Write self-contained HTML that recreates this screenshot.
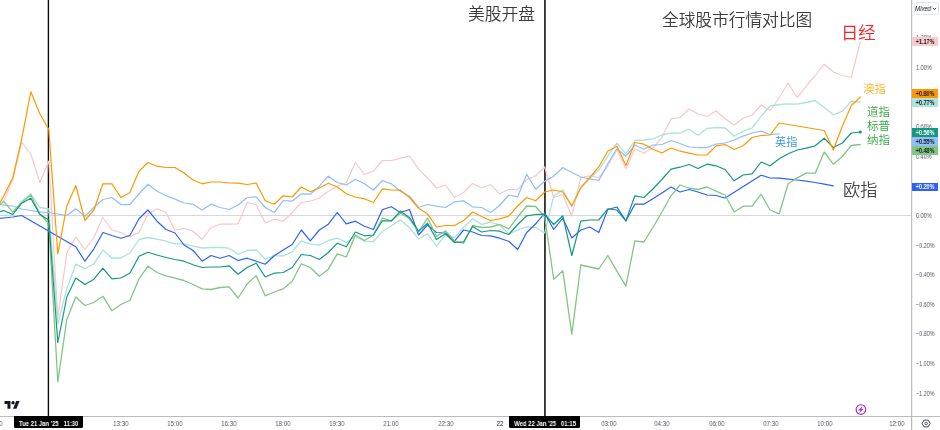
<!DOCTYPE html>
<html lang="zh">
<head>
<meta charset="utf-8">
<title>全球股市行情对比图</title>
<style>
html,body{margin:0;padding:0;background:#fff;}
body{width:940px;height:430px;overflow:hidden;position:relative;font-family:"Liberation Sans","Noto Sans CJK SC",sans-serif;}
#chart{position:absolute;left:0;top:0;width:940px;height:430px;}
.t{position:absolute;white-space:nowrap;line-height:1;will-change:transform;}
.cn{font-family:"Liberation Sans","Noto Sans CJK SC",sans-serif;font-weight:350;}
.ax{will-change:transform;position:absolute;font-size:6.3px;color:#50535e;line-height:8px;height:8px;white-space:nowrap;transform-origin:left center;}
.tm{top:419.9px;width:40px;text-align:center;transform:scaleX(0.958);transform-origin:center center;}
.pr{left:916.1px;transform:scaleX(0.873);}
.ng{transform:scaleX(0.854);}
.lab{position:absolute;left:912px;width:26px;height:9px;font-size:6.5px;padding-left:1.2px;box-sizing:border-box;line-height:9px;text-align:center;color:#16181d;white-space:nowrap;}
.lab span{will-change:transform;display:inline-block;transform:scaleX(0.84);transform-origin:center center;font-weight:bold;}
.tbox{position:absolute;top:416.3px;height:12px;background:#000;color:#fff;font-size:6.3px;font-weight:bold;line-height:12px;padding-top:2px;box-sizing:border-box;text-align:center;border-radius:0 0 1.5px 1.5px;white-space:pre;}
.tbox span{will-change:transform;display:inline-block;transform-origin:center center;}
</style>
</head>
<body>
<svg id="chart" width="940" height="430" viewBox="0 0 940 430">
<rect x="0" y="0" width="940" height="430" fill="#ffffff"/>
<!-- zero line -->
<line x1="0" y1="215.5" x2="911" y2="215.5" stroke="#d6d7da" stroke-width="1"/>
<!-- vertical markers -->
<line x1="48.4" y1="0" x2="48.4" y2="416" stroke="#0a0a0a" stroke-width="1.35"/>
<line x1="544.95" y1="0" x2="544.95" y2="416" stroke="#0c0c0c" stroke-width="1.55"/>
<!-- series -->
<polyline points="3.7,201.0 12.7,180.0 21.7,142.0 30.8,154.0 39.8,182.5 48.8,161.0 57.8,317.5 66.8,253.0 75.8,236.8 84.9,249.5 93.9,237.5 102.9,217.5 111.9,230.0 120.9,232.5 129.9,237.0 139.0,232.5 148.0,213.8 157.0,208.8 166.0,212.5 175.0,230.5 184.0,228.2 193.1,231.2 202.1,239.5 211.1,227.5 220.1,224.2 229.1,224.2 238.1,223.8 247.2,202.5 256.2,205.0 265.2,223.0 274.2,219.2 283.2,221.2 292.2,212.5 301.3,202.5 310.3,201.2 319.3,198.0 328.3,191.2 337.3,186.2 346.3,182.5 355.4,162.5 364.4,174.5 373.4,171.2 382.4,160.5 391.4,160.5 400.4,158.2 409.5,156.2 418.5,168.8 427.5,178.0 436.5,188.0 445.5,185.0 454.5,197.5 463.6,192.5 472.6,183.5 481.6,188.0 490.6,184.5 499.6,193.8 508.7,189.5 517.7,189.5 526.7,179.5 535.7,175.8 544.7,167.0 553.7,197.5 562.8,194.5 571.8,216.2 580.8,177.5 589.8,175.8 598.8,177.5 607.8,166.2 616.9,149.5 625.9,168.8 634.9,148.8 643.9,153.0 652.9,148.0 661.9,137.5 671.0,118.8 680.0,117.5 689.0,109.0 698.0,113.8 707.0,116.5 716.0,110.8 725.1,118.8 734.1,125.0 743.1,118.2 752.1,115.0 761.1,105.0 770.1,110.5 779.2,97.5 788.2,83.2 797.2,97.5 806.2,86.2 815.2,75.5 824.2,64.2 833.3,72.0 842.3,75.5 851.3,77.5 860.3,41.8" fill="none" stroke="#fbc6ca" stroke-width="1.2" stroke-linejoin="round" stroke-linecap="round"/>
<polyline points="-5.3,215.4 3.7,215.4 12.7,215.2 21.7,201.4 30.8,193.8 39.8,207.5 48.8,208.8 57.8,323.8 66.8,288.8 75.8,264.2 84.9,268.8 93.9,263.8 102.9,250.0 111.9,258.0 120.9,258.0 129.9,253.0 139.0,239.5 148.0,237.5 157.0,239.2 166.0,241.2 175.0,243.8 184.0,243.8 193.1,246.2 202.1,248.0 211.1,247.5 220.1,247.5 229.1,248.2 238.1,254.2 247.2,250.5 256.2,250.0 265.2,259.2 274.2,255.8 283.2,255.8 292.2,252.0 301.3,240.8 310.3,244.2 319.3,245.0 328.3,240.5 337.3,238.2 346.3,242.5 355.4,236.2 364.4,241.2 373.4,241.8 382.4,231.2 391.4,225.8 400.4,220.0 409.5,227.5 418.5,238.8 427.5,233.8 436.5,246.2 445.5,235.0 454.5,237.5 463.6,227.5 472.6,218.8 481.6,224.5 490.6,222.0 499.6,225.0 508.7,233.8 517.7,230.0 526.7,226.8 535.7,227.5 544.7,233.0 553.7,196.2 562.8,189.8 571.8,206.0 580.8,188.0 589.8,178.2 598.8,170.0 607.8,156.2 616.9,143.2 625.9,153.8 634.9,140.5 643.9,140.0 652.9,138.8 661.9,135.0 671.0,133.2 680.0,133.0 689.0,129.2 698.0,135.2 707.0,128.5 716.0,127.5 725.1,128.0 734.1,136.2 743.1,131.2 752.1,128.0 761.1,116.2 770.1,106.0 779.2,104.5 788.2,103.8 797.2,104.2 806.2,102.5 815.2,100.5 824.2,107.5 833.3,114.8 842.3,111.2 851.3,101.2 860.3,102.0" fill="none" stroke="#a8e4da" stroke-width="1.3" stroke-linejoin="round" stroke-linecap="round"/>
<polyline points="-5.3,204.0 3.7,205.0 12.7,206.0 21.7,209.0 30.8,210.5 39.8,211.8 48.8,212.5 57.8,214.0 66.8,215.5 75.8,208.8 84.9,216.2 93.9,207.5 102.9,199.5 111.9,197.5 120.9,204.5 129.9,204.5 139.0,193.8 148.0,184.2 157.0,191.2 166.0,195.5 175.0,199.2 184.0,203.0 193.1,204.2 202.1,210.0 211.1,204.2 220.1,207.5 229.1,209.5 238.1,205.0 247.2,197.5 256.2,196.8 265.2,207.5 274.2,212.5 283.2,200.5 292.2,201.2 301.3,193.8 310.3,194.2 319.3,186.2 328.3,176.2 337.3,182.5 346.3,185.0 355.4,179.2 364.4,183.8 373.4,190.0 382.4,180.5 391.4,183.8 400.4,191.2 409.5,196.2 418.5,207.5 427.5,204.5 436.5,206.2 445.5,207.5 454.5,201.8 463.6,200.8 472.6,206.8 481.6,207.5 490.6,212.5 499.6,205.5 508.7,195.0 517.7,196.8 526.7,174.2 535.7,189.2 544.7,181.2 553.7,176.2 562.8,167.5 571.8,172.5 580.8,177.0 589.8,178.8 598.8,180.5 607.8,163.8 616.9,148.8 625.9,156.2 634.9,145.0 643.9,149.2 652.9,145.0 661.9,144.5 671.0,140.5 680.0,143.5 689.0,147.0 698.0,147.5 707.0,147.5 716.0,144.2 725.1,143.0 734.1,140.0 743.1,136.2 752.1,133.0 761.1,131.2 770.1,134.5 779.2,133.8" fill="none" stroke="#90bff9" stroke-width="1.25" stroke-linejoin="round" stroke-linecap="round"/>
<polyline points="-5.3,219.0 3.7,218.0 12.7,217.0 21.7,215.5 75.8,246.8 84.9,261.2 93.9,248.8 102.9,232.5 111.9,235.5 120.9,238.2 129.9,235.5 139.0,218.8 148.0,210.0 157.0,221.2 166.0,229.5 175.0,233.0 184.0,245.0 193.1,250.5 202.1,261.2 211.1,255.5 220.1,258.2 229.1,255.5 238.1,260.5 247.2,258.2 256.2,261.2 265.2,264.2 274.2,255.8 283.2,250.0 292.2,244.5 301.3,230.0 310.3,240.8 319.3,230.0 328.3,224.2 337.3,212.5 346.3,223.8 355.4,221.2 364.4,226.2 373.4,229.5 382.4,209.5 391.4,206.8 400.4,212.5 409.5,209.5 418.5,235.0 427.5,225.0 436.5,232.5 445.5,233.0 454.5,241.2 463.6,230.0 472.6,232.0 481.6,235.5 490.6,235.8 499.6,238.2 508.7,241.2 517.7,249.5 526.7,232.5 535.7,223.8 544.7,213.2 553.7,229.5 562.8,218.0 571.8,238.0 580.8,230.0 589.8,227.0 598.8,232.5 607.8,209.5 616.9,207.0 625.9,220.8 634.9,204.2 643.9,204.2 652.9,198.8 661.9,193.0 671.0,187.0 680.0,192.0 689.0,189.5 698.0,192.0 707.0,195.0 716.0,195.5 725.1,198.0 761.1,175.2 770.1,178.0 779.2,178.2 788.2,179.2 797.2,180.0 806.2,181.2 815.2,182.5 824.2,184.2 833.3,185.8" fill="none" stroke="#2962ff" stroke-width="1.2" stroke-linejoin="round" stroke-linecap="round"/>
<polyline points="-5.3,209.0 3.7,201.4 12.7,212.0 21.7,202.5 30.8,195.0 39.8,213.8 48.8,223.8 57.8,381.8 66.8,319.5 75.8,297.0 84.9,305.5 93.9,302.5 102.9,296.2 111.9,310.8 120.9,304.5 129.9,300.5 139.0,278.8 148.0,266.2 157.0,272.5 166.0,275.8 175.0,278.2 184.0,280.5 193.1,284.5 202.1,288.8 211.1,289.5 220.1,287.5 229.1,286.8 238.1,298.0 247.2,283.8 256.2,275.8 265.2,295.8 274.2,292.0 283.2,288.8 292.2,281.2 301.3,263.8 310.3,267.5 319.3,276.2 328.3,269.2 337.3,253.8 346.3,257.0 355.4,235.0 364.4,240.5 373.4,235.0 382.4,218.2 391.4,220.8 400.4,213.0 409.5,218.8 418.5,232.0 427.5,218.0 436.5,236.2 445.5,230.8 454.5,241.2 463.6,243.2 472.6,225.5 481.6,227.5 490.6,227.0 499.6,224.5 508.7,228.8 517.7,217.0 526.7,206.0 535.7,206.5 544.7,217.0 553.7,279.2 562.8,270.8 571.8,334.2 580.8,265.0 589.8,267.0 598.8,269.0 607.8,255.5 616.9,271.2 625.9,286.2 634.9,240.8 643.9,242.0 652.9,227.5 661.9,212.0 671.0,195.8 680.0,185.0 689.0,188.0 698.0,189.5 707.0,187.0 716.0,191.2 725.1,195.0 734.1,212.0 743.1,206.2 752.1,206.2 761.1,194.2 770.1,210.0 779.2,213.8 788.2,183.8 797.2,177.8 806.2,173.2 815.2,173.2 824.2,152.0 833.3,164.2 842.3,156.5 851.3,145.5 860.3,144.5" fill="none" stroke="#81c784" stroke-width="1.3" stroke-linejoin="round" stroke-linecap="round"/>
<polyline points="-5.3,213.0 3.7,210.5 12.7,214.5 21.7,203.2 30.8,198.2 39.8,214.5 48.8,220.0 57.8,342.5 66.8,297.0 75.8,278.0 84.9,284.5 93.9,279.2 102.9,268.2 111.9,278.8 120.9,278.0 129.9,273.2 139.0,256.2 148.0,252.2 157.0,255.0 166.0,257.5 175.0,259.5 184.0,261.2 193.1,264.8 202.1,267.5 211.1,267.0 220.1,267.0 229.1,265.8 238.1,274.2 247.2,267.5 256.2,263.2 265.2,277.0 274.2,273.2 283.2,272.5 292.2,267.5 301.3,254.5 310.3,255.5 319.3,259.5 328.3,252.5 337.3,243.2 346.3,246.8 355.4,232.0 364.4,235.8 373.4,235.0 382.4,220.8 391.4,220.8 400.4,211.2 409.5,217.5 418.5,231.2 427.5,223.2 436.5,239.5 445.5,233.8 454.5,242.5 463.6,241.8 472.6,226.5 481.6,232.0 490.6,230.5 499.6,231.2 508.7,234.5 517.7,224.5 526.7,215.8 535.7,214.5 544.7,214.2 553.7,224.5 562.8,215.8 571.8,255.5 580.8,221.2 589.8,220.0 598.8,220.0 607.8,208.8 616.9,210.0 625.9,220.8 634.9,195.8 643.9,197.5 652.9,189.0 661.9,179.5 671.0,169.2 680.0,167.2 689.0,164.5 698.0,168.5 707.0,164.2 716.0,165.8 725.1,169.5 734.1,180.8 743.1,175.0 752.1,173.8 761.1,162.0 770.1,165.8 779.2,158.8 788.2,153.8 797.2,150.0 806.2,148.2 815.2,145.8 824.2,138.2 833.3,147.5 842.3,143.0 851.3,133.0 860.3,132.0" fill="none" stroke="#14997f" stroke-width="1.2" stroke-linejoin="round" stroke-linecap="round"/>
<polyline points="-5.3,212.0 3.7,196.0 12.7,178.0 21.7,138.8 30.8,91.8 39.8,113.8 48.8,129.5 57.8,254.0 66.8,206.2 75.8,185.5 84.9,220.5 93.9,210.0 102.9,183.8 111.9,183.8 120.9,197.5 129.9,192.5 139.0,171.2 148.0,162.5 157.0,166.2 166.0,167.5 175.0,167.5 184.0,173.0 193.1,180.0 202.1,183.8 211.1,182.0 220.1,182.0 229.1,183.0 238.1,183.2 247.2,184.5 256.2,183.0 265.2,200.8 274.2,204.2 283.2,195.8 292.2,197.0 301.3,187.0 310.3,191.8 319.3,188.0 328.3,183.2 337.3,187.0 346.3,193.8 355.4,197.0 364.4,198.8 373.4,202.5 382.4,188.8 391.4,190.0 400.4,190.2 409.5,197.5 418.5,208.2 427.5,213.8 436.5,227.0 445.5,225.5 454.5,225.5 463.6,220.5 472.6,212.0 481.6,216.5 490.6,220.5 499.6,218.8 508.7,216.2 517.7,206.0 526.7,197.5 535.7,200.8 544.7,192.0 553.7,190.0 562.8,192.0 571.8,205.8 580.8,187.5 589.8,177.5 598.8,166.8 607.8,151.2 616.9,146.2 625.9,165.5 634.9,142.5 643.9,144.2 652.9,149.2 661.9,153.0 671.0,148.0 680.0,151.2 689.0,153.2 698.0,155.0 707.0,155.0 716.0,145.8 725.1,144.5 734.1,149.5 743.1,145.8 752.1,137.5 761.1,135.5 770.1,135.0 779.2,123.0 824.2,130.5 833.3,150.0 842.3,126.2 851.3,105.5 860.3,97.0" fill="none" stroke="#ff9800" stroke-width="1.2" stroke-linejoin="round" stroke-linecap="round"/>
<circle cx="860.3" cy="132" r="1.6" fill="#14997f"/>
<!-- axes -->
<line x1="0" y1="416.5" x2="940" y2="416.5" stroke="#b9bbc2" stroke-width="1"/>
<line x1="911.7" y1="0" x2="911.7" y2="430" stroke="#abaeb8" stroke-width="1"/>
<!-- TV logo -->
<g transform="translate(4.5,399.3) scale(0.425)" fill="#131722">
<path d="M14 22H7V11H0V4h14v18z"/>
<circle cx="20" cy="8" r="4"/>
<path d="M28 22h-8l7.5-18h8L28 22z"/>
</g>
<!-- lightning -->
<circle cx="860.9" cy="409.5" r="4.8" fill="#fff" stroke="#a42cc4" stroke-width="1.15"/>
<path d="M862.3 406.6l-3.9 3.6h2.3l-1.3 2.6 4-3.8h-2.3z" fill="#a42cc4" stroke="#a42cc4" stroke-width="0.3" stroke-linejoin="round"/>
<!-- settings hex -->
<path d="M922.1 423.5l2-3.4h4.1l2 3.4-2 3.4h-4.1z" fill="none" stroke="#3a3e4a" stroke-width="0.95" stroke-linejoin="round"/>
<circle cx="926.15" cy="423.5" r="1.3" fill="none" stroke="#3a3e4a" stroke-width="0.85"/>
</svg>

<!-- annotations -->
<div class="t cn" style="left:468.2px;top:7.1px;font-size:16.8px;color:#3c3c3c;">美股开盘</div>
<div class="t cn" style="left:661.5px;top:12.8px;font-size:16.7px;color:#3c3c3c;">全球股市行情对比图</div>
<div class="t cn" style="left:841.4px;top:24.9px;font-size:17.3px;color:#ff1f1f;">日经</div>
<div class="t cn" style="left:863px;top:83.8px;font-size:11.5px;color:#fdb32a;">澳指</div>
<div class="t cn" style="left:867.2px;top:106.9px;font-size:11.5px;color:#35aa3f;">道指</div>
<div class="t cn" style="left:867.2px;top:121.1px;font-size:11.5px;color:#35aa3f;">标普</div>
<div class="t cn" style="left:867.2px;top:134.9px;font-size:11.5px;color:#35aa3f;">纳指</div>
<div class="t cn" style="left:775.3px;top:137.1px;font-size:11.2px;color:#3496f4;">英指</div>
<div class="t cn" style="left:842.8px;top:181.9px;font-size:17.2px;color:#474747;">欧指</div>

<!-- price axis -->
<div class="t" style="left:913.5px;top:2px;width:25px;height:13px;border:1px solid #e0e3eb;border-radius:3px;box-sizing:border-box;"></div>
<div class="ax" style="left:915.3px;top:5.2px;font-style:italic;color:#131722;transform:scaleX(0.958);">Mixed</div>
<svg style="position:absolute;left:932px;top:7px" width="5" height="4" viewBox="0 0 5 4"><path d="M0.8 1l1.7 1.6L4.2 1" fill="none" stroke="#131722" stroke-width="0.9"/></svg>

<div class="ax pr" style="top:34.4px;">1.20%</div>
<div class="ax pr" style="top:64.1px;">1.00%</div>
<div class="ax pr" style="top:93.7px;">0.80%</div>
<div class="ax pr" style="top:123.2px;">0.60%</div>
<div class="ax pr" style="top:152.9px;">0.40%</div>
<div class="ax pr" style="top:182.4px;">0.20%</div>
<div class="ax pr" style="top:212.1px;">0.00%</div>
<div class="ax pr ng" style="top:241.7px;">−0.20%</div>
<div class="ax pr ng" style="top:271.4px;">−0.40%</div>
<div class="ax pr ng" style="top:300.9px;">−0.60%</div>
<div class="ax pr ng" style="top:330.1px;">−0.80%</div>
<div class="ax pr ng" style="top:360.2px;">−1.00%</div>
<div class="ax pr ng" style="top:389.8px;">−1.20%</div>

<div class="lab" style="top:37.3px;background:#fccbcd;"><span>+1.17%</span></div>
<div class="lab" style="top:89.2px;background:#ff9800;"><span>+0.80%</span></div>
<div class="lab" style="top:98.1px;background:#ace5dc;"><span>+0.77%</span></div>
<div class="lab" style="top:128.3px;background:#14997f;color:#fff;"><span>+0.56%</span></div>
<div class="lab" style="top:137.3px;background:#90bff9;"><span>+0.55%</span></div>
<div class="lab" style="top:146px;height:8.5px;background:#81c784;"><span>+0.48%</span></div>
<div class="lab" style="top:182.6px;height:8px;line-height:8px;background:#2962ff;color:#fff;"><span>+0.20%</span></div>

<!-- time axis -->
<div class="ax tm" style="left:-25.5px;">10:00</div>
<div class="ax tm" style="left:101px;">13:30</div>
<div class="ax tm" style="left:155px;">15:00</div>
<div class="ax tm" style="left:209px;">16:30</div>
<div class="ax tm" style="left:263px;">18:00</div>
<div class="ax tm" style="left:317px;">19:30</div>
<div class="ax tm" style="left:371px;">21:00</div>
<div class="ax tm" style="left:425.6px;">22:30</div>
<div class="ax tm" style="left:479.8px;color:#131722;">22</div>
<div class="ax tm" style="left:588.5px;">03:00</div>
<div class="ax tm" style="left:642px;">04:30</div>
<div class="ax tm" style="left:696.6px;">06:00</div>
<div class="ax tm" style="left:750.7px;">07:30</div>
<div class="ax tm" style="left:805px;">10:00</div>
<div class="ax tm" style="left:877px;">12:00</div>

<div class="tbox" style="left:14.2px;width:69px;"><span style="transform:scaleX(0.94)">Tue 21 Jan '25   11:30</span></div>
<div class="tbox" style="left:509.4px;width:71px;"><span style="transform:scaleX(0.934)">Wed 22 Jan '25   01:15</span></div>
</body>
</html>
